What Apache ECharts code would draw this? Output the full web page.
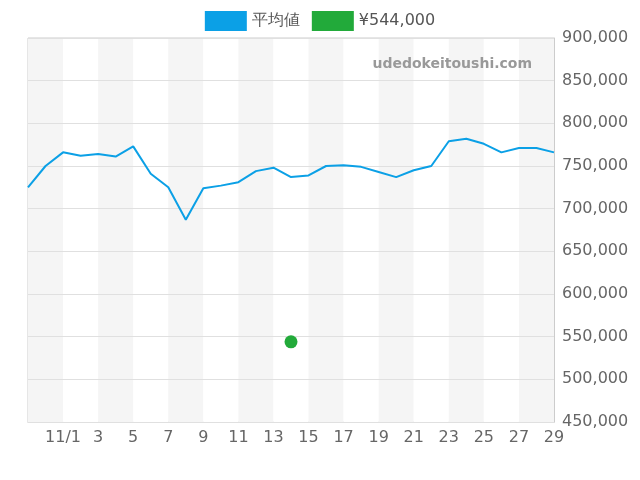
<!DOCTYPE html>
<html><head><meta charset="utf-8">
<script src="https://cdn.jsdelivr.net/npm/echarts@6/dist/echarts.min.js"></script>
</head><body style="margin:0">
<div id="c" style="width:640px;height:480px"></div>
<script>
const categories = ['10/30\n2025','10/31','11/1','2','3','4','5','6','7','8','9','10','11','12','13','14','15','16','17','18','19','20','21','22','23','24','25','26','27','28','29'];
const avgValues = [725000,750000,766000,762000,764000,761000,773000,741000,725000,687000,724000,727000,731000,744000,748000,737000,739000,750000,751000,749000,743000,737000,745000,750000,779000,782000,776000,766000,771000,771000,766000];
const pointValues = categories.map((c,i)=> i===15 ? 544000 : null);
const F = 'DejaVu Sans';
const chart = echarts.init(document.getElementById('c'));
chart.setOption({
  animation:false,
  textStyle:{fontFamily:F},
  legend:{top:6,left:'center',itemWidth:42,itemHeight:20,itemGap:12,textStyle:{fontSize:16,color:'#555',fontFamily:F},
    data:[{name:'平均値',icon:'rect'},{name:'¥544,000',icon:'rect'}]},
  graphic:[{type:'text',z:100,right:108,top:57,style:{text:'udedokeitoushi.com',fill:'#999',font:'bold 14px "DejaVu Sans"'}}],
  grid:{left:28,right:86,top:38,bottom:58,show:true,borderColor:'#ccc',borderWidth:1,backgroundColor:'transparent'},
  xAxis:{type:'category',data:categories,boundaryGap:false,z:1,
    axisLine:{lineStyle:{color:'#ccc'}},axisTick:{show:false},
    axisLabel:{interval:1,color:'#666',fontSize:16,fontFamily:F},
    splitLine:{show:false},
    splitArea:{show:true,interval:1,areaStyle:{color:['#f5f5f5','#ffffff']}}},
  yAxis:{type:'value',position:'right',min:450000,max:900000,interval:50000,z:3,
    axisLine:{show:true,lineStyle:{color:'#ccc'}},
    axisLabel:{color:'#666',fontSize:16,fontFamily:F,formatter:v=>v.toLocaleString('en-US')},
    splitLine:{lineStyle:{color:'#e0e0e0'}}},
  series:[
    {name:'平均値',type:'line',z:5,data:avgValues,symbol:'none',itemStyle:{color:'#0ba0e6'},lineStyle:{width:2,color:'#0ba0e6'}},
    {name:'¥544,000',type:'scatter',z:5,data:pointValues,symbolSize:13,itemStyle:{color:'#22aa3a',opacity:1}}
  ]
});
</script></body></html>
